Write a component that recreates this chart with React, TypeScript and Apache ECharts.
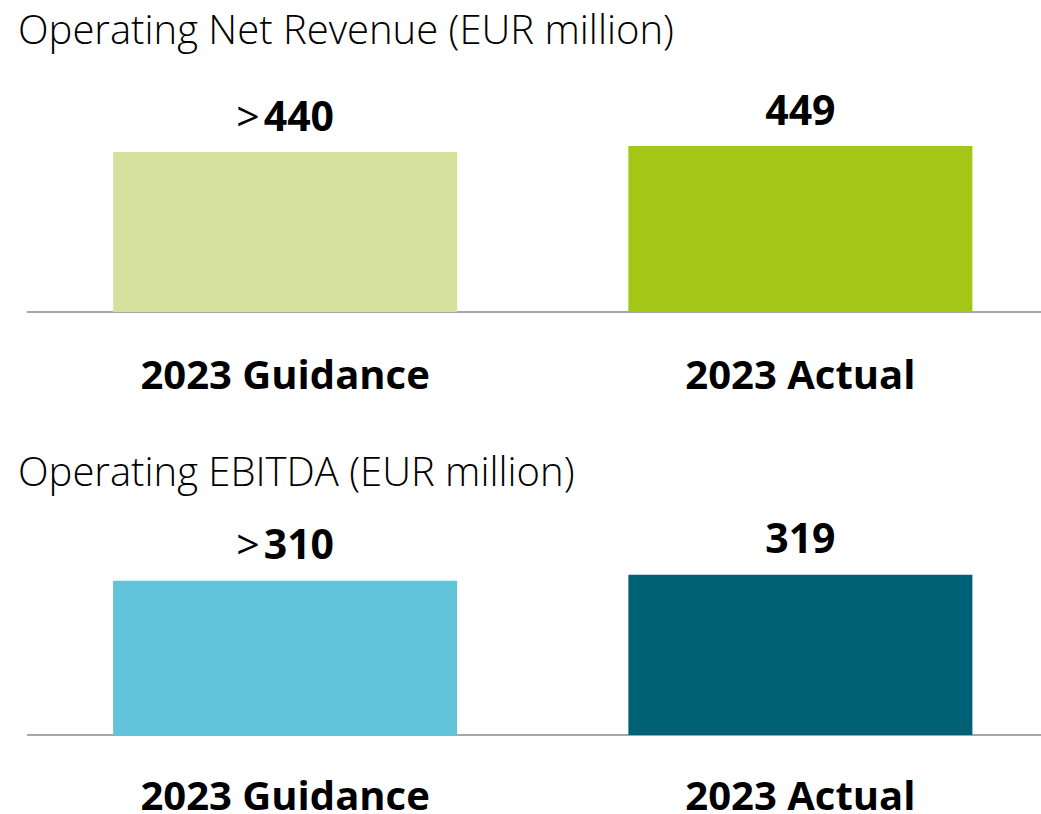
import React, { useEffect, useRef } from "react";
import * as echarts from "echarts";

const categories = ["2023 Guidance", "2023 Actual"];
const revenueValues = [440, 449];
const ebitdaValues = [310, 319];
const labelPrefixes = [">", ""];
const revenueColors = ["#d6e19e", "#a3c617"];
const ebitdaColors = ["#60c3da", "#006076"];
const titles = ["Operating Net Revenue (EUR million)", "Operating EBITDA (EUR million)"];

const FONT = "'Open Sans', 'Noto Sans', sans-serif";

function makeSeries(values: number[], colors: string[], idx: number) {
  return {
    type: "bar",
    xAxisIndex: idx,
    yAxisIndex: idx,
    barWidth: 344,
    data: values.map((v, i) => ({
      value: v,
      itemStyle: { color: colors[i] },
      label: {
        formatter: labelPrefixes[i] ? "{p|" + labelPrefixes[i] + "}{v|{c}}" : "{v|{c}}",
      },
    })),
    label: {
      show: true,
      position: "top",
      distance: 17,
      rich: {
        p: { fontFamily: FONT, fontSize: 41, fontWeight: 400, color: "#000", padding: [0, 4, 0, 0] },
        v: { fontFamily: FONT, fontSize: 41, fontWeight: 700, color: "#000" },
      },
    },
  };
}

export default function App() {
  const ref = useRef<HTMLDivElement>(null);
  useEffect(() => {
    if (!ref.current) return;
    const chart = echarts.init(ref.current, undefined, { renderer: "svg" });
    const axisX = (gi: number, margin: number) => ({
      type: "category",
      gridIndex: gi,
      data: categories,
      axisLine: { show: true, lineStyle: { color: "#8a8a8a", width: 1.5 } },
      axisTick: { show: false },
      axisLabel: {
        margin,
        fontFamily: FONT,
        fontSize: 40,
        lineHeight: 34,
        fontWeight: 700,
        color: "#000",
      },
    });
    const axisY = (gi: number, min: number, max: number) => ({
      type: "value",
      gridIndex: gi,
      min,
      max,
      show: false,
      splitLine: { show: false },
    });
    const titleStyle = { fontFamily: FONT, fontSize: 40, fontWeight: 300, color: "#000" };
    chart.setOption({
      animation: false,
      title: [
        { text: titles[0], left: 13, top: 3, textStyle: titleStyle },
        { text: titles[1], left: 13, top: 445, textStyle: titleStyle },
      ],
      grid: [
        { left: 27.5, right: 0, top: 112, height: 200 },
        { left: 27.5, right: 0, top: 535.5, height: 200 },
      ],
      xAxis: [axisX(0, 44), axisX(1, 42)],
      yAxis: [axisY(0, 200, 500), axisY(1, 78, 378)],
      series: [makeSeries(revenueValues, revenueColors, 0), makeSeries(ebitdaValues, ebitdaColors, 1)],
    });
    return () => chart.dispose();
  }, []);
  return (
    <div
      style={{
        position: "fixed",
        left: 0,
        top: 0,
        width: 1041,
        height: 814,
        overflow: "hidden",
        background: "#fff",
      }}
    >
      <div ref={ref} style={{ width: 1058, height: 814 }} />
    </div>
  );
}
